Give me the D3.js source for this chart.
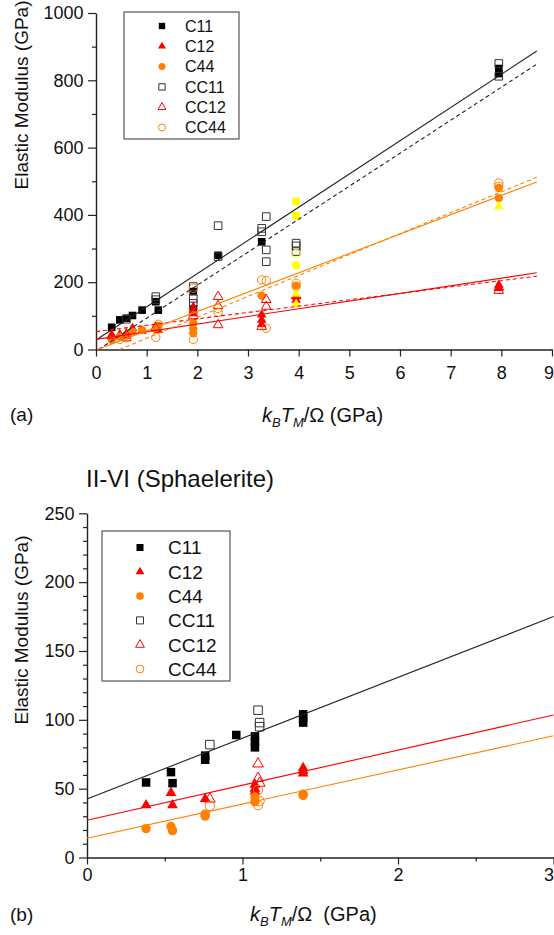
<!DOCTYPE html>
<html>
<head>
<meta charset="utf-8">
<script src="https://cdn.jsdelivr.net/npm/d3@7/dist/d3.min.js"></script>
<style>
  html, body { margin: 0; padding: 0; background: #fff; }
  svg { display: block; font-family: "Liberation Sans", Arial, sans-serif; }
</style>
</head>
<body>
<svg id="chart" width="554" height="935"></svg>
<script>
// ---------- panel (a): all compounds ----------
// [kB*TM/Omega (GPa), modulus (GPa)]
const aC11 = [[0.31,66],[0.47,88],[0.60,93],[0.72,101],[0.91,117],[1.18,142],[1.23,117],[1.92,172],[1.92,120],[2.41,280],[3.27,320],[7.95,835],[7.95,820]];
const aC12 = [[0.31,43],[0.47,45],[0.60,48],[0.72,63],[0.91,55],[1.18,62],[1.23,57],[1.92,127],[1.92,115],[1.92,107],[3.27,103],[3.27,88],[3.27,75],[3.95,157],[3.95,147],[7.95,192],[7.95,182]];
const aC44 = [[0.31,28],[0.47,38],[0.60,42],[0.72,53],[0.91,58],[1.18,63],[1.23,70],[1.92,78],[1.92,62],[1.92,48],[3.27,160],[3.95,190],[7.95,480],[7.95,450]];
const aCC11 = [[0.60,90],[1.18,157],[1.18,148],[1.92,187],[1.92,152],[1.92,137],[2.41,368],[2.41,276],[3.27,360],[3.27,350],[3.36,395],[3.36,296],[3.36,261],[3.95,316],[3.95,308],[3.95,291],[7.95,850],[7.95,812]];
const aCC12 = [[0.31,40],[0.60,43],[0.60,34],[1.18,65],[1.92,100],[2.41,157],[2.41,130],[2.41,73],[3.36,148],[3.36,128],[3.27,68],[3.95,160],[7.95,185],[7.95,175]];
const aCC44 = [[0.47,30],[0.60,35],[1.18,36],[1.23,75],[1.92,182],[1.92,100],[1.92,30],[2.41,122],[2.41,110],[3.27,207],[3.36,205],[3.36,63],[3.95,197],[3.95,187],[7.95,495],[7.95,485]];
// highlighted entries
const aMarkedC11 = [[3.95,440],[3.95,398]];
const aMarkedC12 = [[3.95,165],[3.95,135],[7.95,425]];
const aMarkedC44 = [[3.95,250]];
const aMarkedCC44 = [[3.95,285]];
// linear fits: [start, end]
const aFitC11 = [[0,28],[8.7,887]];
const aFitCC11 = [[0.05,0],[8.7,848]];
const aFitC12 = [[0,30],[8.7,228]];
const aFitCC12 = [[0,53],[8.7,218]];
const aFitC44 = [[0.03,0],[8.7,498]];
const aFitCC44 = [[0.46,0],[8.7,512]];
const aXTicks = [0,1,2,3,4,5,6,7,8,9];
const aYTicks = [0,200,400,600,800,1000];
const aYMinor = [100,300,500,700,900];

// ---------- panel (b): II-VI sphalerite ----------
const bC11 = [[0.38,54.5],[0.54,62],[0.55,54],[0.76,74],[0.76,71],[0.96,89],[1.08,88],[1.08,84],[1.08,80],[1.39,104],[1.39,101],[1.39,98]];
const bC12 = [[0.38,38],[0.54,47],[0.55,38],[0.76,42.5],[1.08,53],[1.08,50],[1.08,48],[1.39,65],[1.39,63],[1.39,61]];
const bC44 = [[0.38,21],[0.54,22.5],[0.55,19.5],[0.76,31.5],[0.76,30],[1.08,44],[1.08,40.5],[1.39,46],[1.39,45]];
const bCC11 = [[0.79,82],[1.10,107],[1.11,98],[1.11,95]];
const bCC12 = [[0.79,42.5],[1.10,68],[1.10,57.5],[1.11,54]];
const bCC44 = [[0.79,37.5],[1.10,49],[1.10,38],[1.11,41]];
const bFitC11 = [[0,42.5],[3,175]];
const bFitC12 = [[0,27],[3,103.5]];
const bFitC44 = [[0,14],[3,88.4]];
const bXTicks = [0,1,2,3];
const bXMinor = [0.5,1.5,2.5];
const bYTicks = [0,50,100,150,200,250];
const bYMinor = d3.range(10,250,10).filter(v => v % 50 !== 0);

const legendNames = ["C11","C12","C44","CC11","CC12","CC44"];

const BLACK = "#000", RED = "#ff0000", ORANGE = "#ff8000", YELLOW = "#ffff00";
const FONT = "'Liberation Sans', Arial, sans-serif";

const svg = d3.select("#chart");

const styles = {
  C11:  {shape: d3.symbolSquare,   fill: BLACK,  stroke: "none"},
  C12:  {shape: d3.symbolTriangle, fill: RED,    stroke: "none"},
  C44:  {shape: d3.symbolCircle,   fill: ORANGE, stroke: "none"},
  CC11: {shape: d3.symbolSquare,   fill: "none", stroke: "#333"},
  CC12: {shape: d3.symbolTriangle, fill: "none", stroke: RED},
  CC44: {shape: d3.symbolCircle,   fill: "none", stroke: ORANGE}
};
const areaFor = (shape, k) => shape === d3.symbolSquare ? 58 * k : shape === d3.symbolTriangle ? 40 * k : 55 * k;

function drawPoints(g, x, y, data, st, k) {
  const sym = d3.symbol().type(st.shape).size(areaFor(st.shape, k));
  g.selectAll(null).data(data).enter().append("path")
    .attr("d", sym)
    .attr("transform", d => `translate(${x(d[0])},${y(d[1])})`)
    .attr("fill", st.fill)
    .attr("stroke", st.stroke)
    .attr("stroke-width", 1);
}

function drawFit(g, x, y, pts, color, dashed) {
  g.append("path")
    .attr("d", d3.line().x(d => x(d[0])).y(d => y(d[1]))(pts))
    .attr("fill", "none")
    .attr("stroke", color)
    .attr("stroke-width", 1.1)
    .attr("stroke-dasharray", dashed ? "4,3" : null);
}

function drawAxes(g, x, y, xt, xm, yt, ym, xPad) {
  const ax = g.append("g").attr("transform", `translate(0,${y(0)})`)
    .call(d3.axisBottom(x).tickValues(xt).tickSize(7).tickSizeOuter(0).tickPadding(xPad).tickFormat(d3.format("d")));
  // the last label sits at the right edge of the page: keep it inside
  ax.selectAll(".tick text").filter(d => d === xt[xt.length - 1])
    .attr("text-anchor", "end").attr("x", 553.5 - x(xt[xt.length - 1]));
  if (xm.length) {
    g.append("g").attr("transform", `translate(0,${y(0)})`)
      .call(d3.axisBottom(x).tickValues(xm).tickSize(4).tickSizeOuter(0).tickFormat(""))
      .select(".domain").remove();
  }
  g.append("g").attr("transform", `translate(${x(0)},0)`)
    .call(d3.axisLeft(y).tickValues(yt).tickSize(8).tickSizeOuter(0).tickPadding(4.5).tickFormat(d3.format("d")));
  g.append("g").attr("transform", `translate(${x(0)},0)`)
    .call(d3.axisLeft(y).tickValues(ym).tickSize(4).tickSizeOuter(0).tickFormat(""))
    .select(".domain").remove();
  g.selectAll(".domain").attr("stroke", "#222").attr("stroke-width", 1.4);
  g.selectAll(".tick line").attr("stroke", "#222").attr("stroke-width", 1.2);
  g.selectAll(".tick text").attr("font-size", 18).attr("font-family", FONT).attr("fill", "#111");
}

function drawLegend(g, x0, y0, w, h, rowY0, dy, markX, textX, fs, k) {
  g.append("rect").attr("x", x0).attr("y", y0).attr("width", w).attr("height", h)
    .attr("fill", "#fff").attr("stroke", "#555").attr("stroke-width", 1.2);
  legendNames.forEach((name, i) => {
    const st = styles[name];
    const cy = rowY0 + i * dy;
    g.append("path")
      .attr("d", d3.symbol().type(st.shape).size(areaFor(st.shape, k))())
      .attr("transform", `translate(${markX},${cy})`)
      .attr("fill", st.fill).attr("stroke", st.stroke).attr("stroke-width", 1);
    g.append("text").attr("x", textX).attr("y", cy).attr("dy", "0.36em")
      .attr("font-size", fs).attr("font-family", FONT).attr("fill", "#111").text(name);
  });
}

function xTitle(g, x, yb, gap) {
  const t = g.append("text").attr("x", x).attr("y", yb).attr("font-size", 20)
    .attr("font-family", FONT).attr("fill", "#111");
  t.append("tspan").attr("font-style", "italic").text("k");
  t.append("tspan").attr("font-style", "italic").attr("font-size", 13).attr("dy", 5).text("B");
  t.append("tspan").attr("font-style", "italic").attr("dy", -5).text("T");
  t.append("tspan").attr("font-style", "italic").attr("font-size", 13).attr("dy", 5).text("M");
  t.append("tspan").attr("dy", -5).text("/Ω" + gap + "(GPa)");
}

function yTitle(g, cx, cy) {
  g.append("text").attr("transform", `translate(${cx},${cy}) rotate(-90)`)
    .attr("text-anchor", "middle").attr("font-size", 19).attr("font-family", FONT)
    .attr("fill", "#111").text("Elastic Modulus (GPa)");
}

// ---------- panel (a) ----------
{
  const g = svg.append("g");
  const x = d3.scaleLinear().domain([0, 9]).range([96, 552]);
  const y = d3.scaleLinear().domain([0, 1000]).range([349.5, 13]);
  drawAxes(g, x, y, aXTicks, [], aYTicks, aYMinor, 10);
  const pts = g.append("g");
  drawPoints(pts, x, y, aC11, styles.C11, 1);
  drawPoints(pts, x, y, aC12, styles.C12, 1);
  drawPoints(pts, x, y, aC44, styles.C44, 1);
  drawPoints(pts, x, y, aCC11, styles.CC11, 1);
  drawPoints(pts, x, y, aCC12, styles.CC12, 1);
  drawPoints(pts, x, y, aCC44, styles.CC44, 1);
  drawPoints(pts, x, y, aMarkedC11, {shape: d3.symbolSquare, fill: YELLOW, stroke: "none"}, 1);
  drawPoints(pts, x, y, aMarkedC12, {shape: d3.symbolTriangle, fill: YELLOW, stroke: "none"}, 1);
  drawPoints(pts, x, y, aMarkedC44, {shape: d3.symbolCircle, fill: YELLOW, stroke: "none"}, 1);
  drawPoints(pts, x, y, aMarkedCC44, {shape: d3.symbolCircle, fill: "none", stroke: YELLOW}, 1);
  drawFit(g, x, y, aFitC11, "#222", false);
  drawFit(g, x, y, aFitCC11, "#222", true);
  drawFit(g, x, y, aFitC12, RED, false);
  drawFit(g, x, y, aFitCC12, RED, true);
  drawFit(g, x, y, aFitC44, ORANGE, false);
  drawFit(g, x, y, aFitCC44, ORANGE, true);
  drawLegend(g, 124, 12, 115, 127, 26, 20.3, 162, 185, 16, 0.7);
  xTitle(g, 262, 422, " ");
  yTitle(g, 28, 95);
  g.append("text").attr("x", 10).attr("y", 421).attr("font-size", 19)
    .attr("font-family", FONT).attr("fill", "#111").text("(a)");
}

// ---------- panel (b) ----------
{
  const g = svg.append("g");
  const x = d3.scaleLinear().domain([0, 3]).range([87, 553.5]);
  const y = d3.scaleLinear().domain([0, 250]).range([857.5, 513.3]);
  drawAxes(g, x, y, bXTicks, bXMinor, bYTicks, bYMinor, 4);
  const pts = g.append("g");
  drawPoints(pts, x, y, bC11, styles.C11, 1.25);
  drawPoints(pts, x, y, bC12, styles.C12, 1.25);
  drawPoints(pts, x, y, bC44, styles.C44, 1.25);
  drawPoints(pts, x, y, bCC11, styles.CC11, 1.25);
  drawPoints(pts, x, y, bCC12, styles.CC12, 1.25);
  drawPoints(pts, x, y, bCC44, styles.CC44, 1.25);
  drawFit(g, x, y, bFitC11, "#222", false);
  drawFit(g, x, y, bFitC12, RED, false);
  drawFit(g, x, y, bFitC44, ORANGE, false);
  drawLegend(g, 102, 531, 128, 150, 547.5, 24.3, 140, 168, 19, 0.85);
  xTitle(g, 250, 921, "\u00a0\u00a0");
  yTitle(g, 28, 630);
  g.append("text").attr("x", 10).attr("y", 921).attr("font-size", 19)
    .attr("font-family", FONT).attr("fill", "#111").text("(b)");
  g.append("text").attr("x", 86).attr("y", 487).attr("font-size", 24)
    .attr("font-family", FONT).attr("fill", "#111").text("II-VI (Sphaelerite)");
}
</script>
</body>
</html>
